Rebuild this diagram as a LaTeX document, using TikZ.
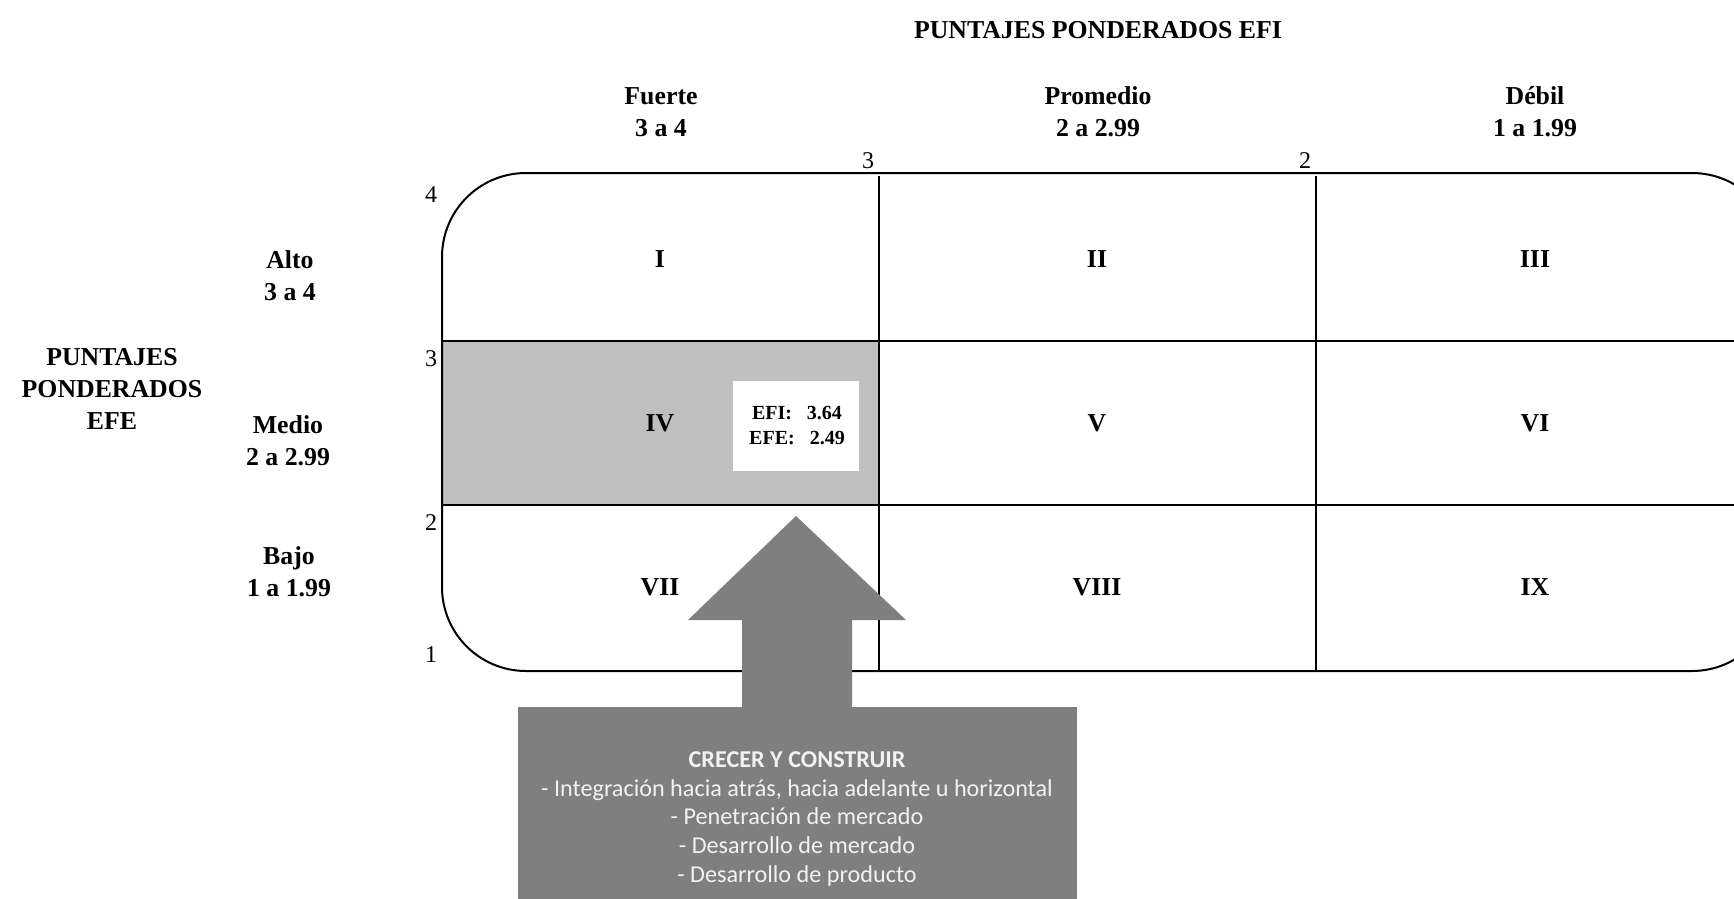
\documentclass[tikz,border=0pt]{standalone}
\usepackage{fontspec}
\setmainfont{Liberation Serif}
\newfontfamily\carlito{Carlito}
\definecolor{cellgray}{HTML}{BFBFBF}
\definecolor{arrowgray}{HTML}{7F7F7F}
\definecolor{boxtext}{HTML}{F2F2F2}
\begin{document}
\begin{tikzpicture}[x=0.5pt,y=-0.5pt,
  lbl/.style={font=\fontsize{12.9}{16}\selectfont\bfseries, align=center, inner sep=0pt},
  roman/.style={font=\fontsize{12.9}{16}\selectfont\bfseries, inner sep=0pt},
  tick/.style={font=\fontsize{12}{14}\selectfont, inner sep=0pt},
  gridline/.style={line width=1pt, black},
  scorebox/.style={fill=white, draw=none},
  scoretext/.style={font=\fontsize{10}{12.5}\selectfont\bfseries, align=center, inner sep=0pt},
  strattext/.style={font=\carlito\fontsize{12.1}{14.35}\selectfont, text=boxtext, align=center, inner sep=0pt}]
\useasboundingbox (0,0) rectangle (1734,899);
\begin{scope}
\clip (0,0) rectangle (1734,899);
% shaded cell IV
\fill[cellgray] (442,341) rectangle (879,505);
% outer rounded frame of the matrix
\draw[gridline, rounded corners=42pt] (442,173) rectangle (1776,671);
% inner grid
\draw[gridline] (442,341) -- (1740,341);
\draw[gridline] (442,505) -- (1740,505);
\draw[gridline] (879,176) -- (879,671);
\draw[gridline] (1316,176) -- (1316,671);
% strategy box and arrow
\fill[arrowgray] (518,707) rectangle (1077,905);
\fill[arrowgray] (742,709) -- (742,620) -- (688,620) -- (796,516) -- (906,620) -- (852,620) -- (852,709) -- cycle;
\end{scope}

% headings
\node[lbl] (efi) at (1098,30) {PUNTAJES PONDERADOS EFI};
\node[lbl] (fuerte) at (661,112) {Fuerte\\3 a 4};
\node[lbl] (promedio) at (1098,112) {Promedio\\2 a 2.99};
\node[lbl] (debil) at (1535,112) {Débil\\1 a 1.99};
\node[lbl] (efe) at (112,389) {PUNTAJES\\PONDERADOS\\EFE};
\node[lbl] (alto) at (290,276) {Alto\\3 a 4};
\node[lbl] (medio) at (288,441) {Medio\\2 a 2.99};
\node[lbl] (bajo) at (289,572) {Bajo\\1 a 1.99};

% scale ticks
\node[tick] (t4) at (431,195) {4};
\node[tick] (t3) at (431,359) {3};
\node[tick] (t2) at (431,523) {2};
\node[tick] (t1) at (431,655) {1};
\node[tick] (x3) at (868,161) {3};
\node[tick] (x2) at (1305,161) {2};

% cell labels
\node[roman] (c1) at (660,259) {I};
\node[roman] (c2) at (1097,259) {II};
\node[roman] (c3) at (1535,259) {III};
\node[roman] (c4) at (660,423) {IV};
\node[roman] (c5) at (1097,423) {V};
\node[roman] (c6) at (1535,423) {VI};
\node[roman] (c7) at (660,587) {VII};
\node[roman] (c8) at (1097,587) {VIII};
\node[roman] (c9) at (1535,587) {IX};

% weighted scores
\fill[scorebox] (733,381) rectangle (859,471);
\node[scoretext] (score) at (797,426) {EFI:\ \ \ 3.64\\EFE:\ \ \ 2.49};

% strategy text
\node[strattext] (strat) at (797,819) {\textbf{CRECER Y CONSTRUIR}\\- Integración hacia atrás, hacia adelante u horizontal\\- Penetración de mercado\\- Desarrollo de mercado\\- Desarrollo de producto};
\end{tikzpicture}
\end{document}
